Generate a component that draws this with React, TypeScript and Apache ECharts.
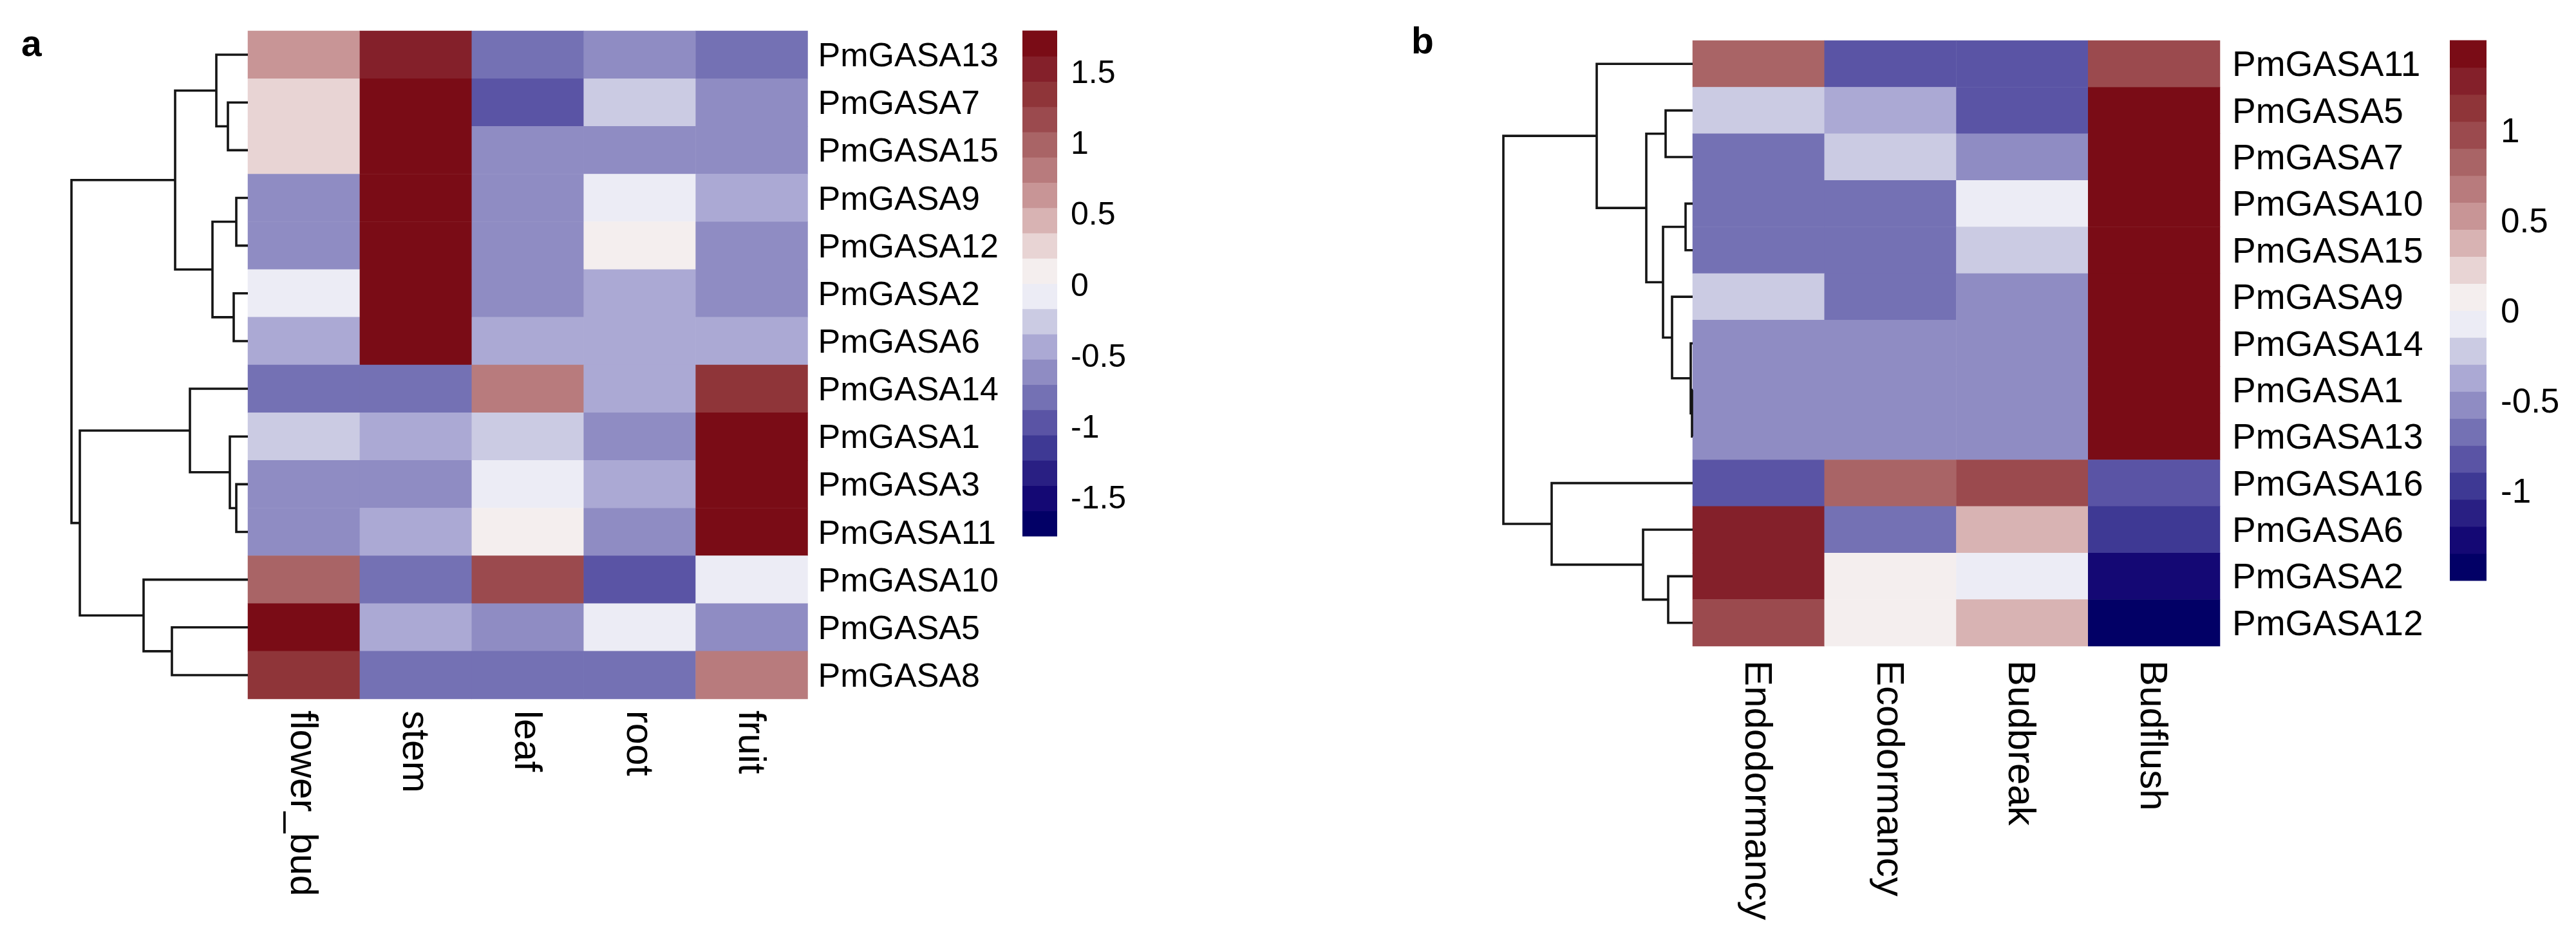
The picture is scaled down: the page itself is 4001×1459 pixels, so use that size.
import React, { useEffect, useRef } from "react";
import * as echarts from "echarts";

// ---------- Panel a: tissues ----------
const tissuesA = ["flower_bud", "stem", "leaf", "root", "fruit"];
const genesA = [
  "PmGASA13", "PmGASA7", "PmGASA15", "PmGASA9", "PmGASA12", "PmGASA2", "PmGASA6",
  "PmGASA14", "PmGASA1", "PmGASA3", "PmGASA11", "PmGASA10", "PmGASA5", "PmGASA8",
];
const exprA = [
  [0.63, 1.52, -0.79, -0.61, -0.76],
  [0.24, 1.73, -1.0, -0.31, -0.66],
  [0.3, 1.76, -0.69, -0.68, -0.69],
  [-0.6, 1.77, -0.62, -0.05, -0.48],
  [-0.64, 1.76, -0.63, 0.09, -0.58],
  [-0.09, 1.74, -0.58, -0.47, -0.6],
  [-0.44, 1.78, -0.45, -0.44, -0.45],
  [-0.82, -0.8, 0.8, -0.45, 1.3],
  [-0.25, -0.45, -0.3, -0.66, 1.66],
  [-0.55, -0.56, -0.1, -0.47, 1.68],
  [-0.58, -0.4, 0.05, -0.68, 1.65],
  [0.92, -0.86, 1.1, -1.03, -0.13],
  [1.73, -0.43, -0.6, -0.1, -0.6],
  [1.38, -0.76, -0.77, -0.75, 0.86],
];
// merges: [left, right, height]; negative = leaf -(row+1), positive = earlier merge (1-based)
const mergesA = [
  [-10, -11, 0.18],
  [-4, -5, 0.18],
  [-6, -7, 0.22],
  [-9, 1, 0.28],
  [-2, -3, 0.31],
  [-1, 5, 0.49],
  [2, 3, 0.55],
  [-8, 4, 0.9],
  [6, 7, 1.13],
  [-13, -14, 1.18],
  [-12, 10, 1.62],
  [8, 11, 2.61],
  [9, 12, 2.74],
];
const scaleA = [-1.77, 1.789];
const ticksA = [-1.5, -1, -0.5, 0, 0.5, 1, 1.5];

// ---------- Panel b: dormancy stages ----------
const stagesB = ["Endodormancy", "Ecodormancy", "Budbreak", "Budflush"];
const genesB = [
  "PmGASA11", "PmGASA5", "PmGASA7", "PmGASA10", "PmGASA15", "PmGASA9", "PmGASA14",
  "PmGASA1", "PmGASA13", "PmGASA16", "PmGASA6", "PmGASA2", "PmGASA12",
];
const exprB = [
  [0.82, -0.86, -0.84, 0.93],
  [-0.24, -0.38, -0.86, 1.48],
  [-0.66, -0.24, -0.55, 1.45],
  [-0.71, -0.71, -0.06, 1.48],
  [-0.66, -0.66, -0.17, 1.49],
  [-0.26, -0.69, -0.54, 1.49],
  [-0.51, -0.49, -0.5, 1.5],
  [-0.5, -0.5, -0.5, 1.5],
  [-0.5, -0.5, -0.5, 1.5],
  [-0.85, 0.8, 0.95, -0.88],
  [1.28, -0.68, 0.38, -0.98],
  [1.27, 0.05, -0.06, -1.26],
  [0.96, 0.06, 0.4, -1.42],
];
const mergesB = [
  [-8, -9, 0.01],
  [-7, 1, 0.03],
  [-4, -5, 0.11],
  [-6, 2, 0.32],
  [-12, -13, 0.38],
  [-2, -3, 0.42],
  [3, 4, 0.46],
  [6, 7, 0.72],
  [-11, 5, 0.77],
  [-1, 8, 1.49],
  [-10, 9, 2.19],
  [10, 11, 2.94],
];
const scaleB = [-1.5, 1.5];
const ticksB = [-1, -0.5, 0, 0.5, 1];

// 20 colour steps, from lowest to highest
const palette = [
  "#020066", "#140874", "#291F83", "#3E3994", "#5A54A5", "#7471B4", "#8F8CC3",
  "#ABA9D4", "#CBCBE3", "#ECECF5", "#F4EEEE", "#E8D4D4", "#D8B3B3", "#C89596",
  "#B87B7D", "#A96466", "#9B4A4E", "#8F3539", "#84202A", "#7A0C16",
];

const FONT = "Liberation Sans, Arial, Helvetica, sans-serif";

function makePieces(range: number[]) {
  const [lo, hi] = range;
  const w = (hi - lo) / palette.length;
  return palette.map((color, i) => {
    const p: any = { gte: lo + i * w, color };
    if (i === palette.length - 1) p.lte = hi + 1e-9;
    else p.lt = lo + (i + 1) * w;
    return p;
  });
}

function makeBins(range: number[]) {
  const [lo, hi] = range;
  const w = (hi - lo) / palette.length;
  return palette.map((_, i) => [lo + i * w, lo + (i + 1) * w, i]);
}

function dendroSegments(merges: number[][]) {
  const pos: number[] = [];
  const hgt: number[] = [];
  const segs: number[][] = [];
  const get = (ref: number) => (ref < 0 ? [0, -ref - 1] : [hgt[ref - 1], pos[ref - 1]]);
  merges.forEach(([l, r, h]) => {
    const [hl, pl] = get(l);
    const [hr, pr] = get(r);
    segs.push([hl, pl, h, pr, hr]);
    pos.push((pl + pr) / 2);
    hgt.push(h);
  });
  return segs;
}

const dendroRender = (_params: any, api: any) => {
  const a = api.coord([api.value(0), api.value(1)]);
  const b = api.coord([api.value(2), api.value(1)]);
  const c = api.coord([api.value(2), api.value(3)]);
  const d = api.coord([api.value(4), api.value(3)]);
  return {
    type: "polyline",
    shape: { points: [a, b, c, d] },
    style: { stroke: "#151515", lineWidth: 3.6, fill: null, lineJoin: "miter" },
  };
};

const barRender = (_params: any, api: any) => {
  const p1 = api.coord([0, api.value(1)]);
  const p2 = api.coord([1, api.value(0)]);
  return {
    type: "rect",
    shape: { x: p1[0], y: p1[1] - 0.4, width: p2[0] - p1[0], height: p2[1] - p1[1] + 0.8 },
    style: { fill: palette[api.value(2)] },
  };
};

function buildOption() {
  const heatA = exprA.flatMap((row, r) => row.map((v, c) => [c, r, v]));
  const heatB = exprB.flatMap((row, r) => row.map((v, c) => [c, r, v]));
  const rootA = mergesA[mergesA.length - 1][2];
  const rootB = mergesB[mergesB.length - 1][2];

  const hidden = { show: false };
  const gridBase = { outerBoundsMode: "none", containLabel: false };

  const catLabel = (size: number, margin: number, rotate = 0) => ({
    interval: 0,
    fontSize: size,
    fontFamily: FONT,
    color: "#000",
    margin,
    rotate,
  });

  return {
    animation: false,
    backgroundColor: "#fff",
    grid: [
      { ...gridBase, left: 385, top: 48, width: 869.5, height: 1038 },
      { ...gridBase, left: 111, top: 48, width: 274, height: 1038 },
      { ...gridBase, left: 1588, top: 48, width: 54, height: 785 },
      { ...gridBase, left: 2629, top: 63, width: 819, height: 941 },
      { ...gridBase, left: 2335, top: 63, width: 294, height: 941 },
      { ...gridBase, left: 3805, top: 63, width: 57, height: 839 },
    ],
    xAxis: [
      {
        gridIndex: 0, type: "category", data: tissuesA, position: "bottom",
        axisLine: hidden, axisTick: hidden, splitLine: hidden,
        axisLabel: catLabel(59, 18, -90),
      },
      { gridIndex: 1, type: "value", min: 0, max: rootA, inverse: true, show: false },
      { gridIndex: 2, type: "value", min: 0, max: 1, show: false },
      {
        gridIndex: 3, type: "category", data: stagesB, position: "bottom",
        axisLine: hidden, axisTick: hidden, splitLine: hidden,
        axisLabel: catLabel(60, 22, -90),
      },
      { gridIndex: 4, type: "value", min: 0, max: rootB, inverse: true, show: false },
      { gridIndex: 5, type: "value", min: 0, max: 1, show: false },
    ],
    yAxis: [
      {
        gridIndex: 0, type: "category", data: genesA, inverse: true, position: "right",
        axisLine: hidden, axisTick: hidden, splitLine: hidden,
        axisLabel: catLabel(52, 16),
      },
      { gridIndex: 1, type: "value", min: -0.5, max: genesA.length - 0.5, inverse: true, show: false },
      {
        gridIndex: 2, type: "value", min: scaleA[0], max: scaleA[1], position: "right",
        axisLine: hidden, axisTick: hidden, splitLine: hidden,
        axisLabel: { customValues: ticksA, fontSize: 50, fontFamily: FONT, color: "#000", margin: 21 },
      },
      {
        gridIndex: 3, type: "category", data: genesB, inverse: true, position: "right",
        axisLine: hidden, axisTick: hidden, splitLine: hidden,
        axisLabel: catLabel(55, 19),
      },
      { gridIndex: 4, type: "value", min: -0.5, max: genesB.length - 0.5, inverse: true, show: false },
      {
        gridIndex: 5, type: "value", min: scaleB[0], max: scaleB[1], position: "right",
        axisLine: hidden, axisTick: hidden, splitLine: hidden,
        axisLabel: { customValues: ticksB, fontSize: 53, fontFamily: FONT, color: "#000", margin: 22 },
      },
    ],
    visualMap: [
      { type: "piecewise", show: false, seriesIndex: 0, dimension: 2, pieces: makePieces(scaleA) },
      { type: "piecewise", show: false, seriesIndex: 3, dimension: 2, pieces: makePieces(scaleB) },
    ],
    series: [
      {
        type: "heatmap", xAxisIndex: 0, yAxisIndex: 0, data: heatA,
        itemStyle: { borderWidth: 0 }, emphasis: { disabled: true }, progressive: 0,
      },
      {
        type: "custom", xAxisIndex: 1, yAxisIndex: 1, clip: false,
        data: dendroSegments(mergesA), encode: { x: [0, 2, 4], y: [1, 3] },
        renderItem: dendroRender,
      },
      {
        type: "custom", xAxisIndex: 2, yAxisIndex: 2, clip: false,
        data: makeBins(scaleA), encode: { y: [0, 1] }, renderItem: barRender,
      },
      {
        type: "heatmap", xAxisIndex: 3, yAxisIndex: 3, data: heatB,
        itemStyle: { borderWidth: 0 }, emphasis: { disabled: true }, progressive: 0,
      },
      {
        type: "custom", xAxisIndex: 4, yAxisIndex: 4, clip: false,
        data: dendroSegments(mergesB), encode: { x: [0, 2, 4], y: [1, 3] },
        renderItem: dendroRender,
      },
      {
        type: "custom", xAxisIndex: 5, yAxisIndex: 5, clip: false,
        data: makeBins(scaleB), encode: { y: [0, 1] }, renderItem: barRender,
      },
    ],
    graphic: [
      {
        type: "text", left: 33, top: 38,
        style: { text: "a", font: `bold 57px ${FONT}`, fill: "#000" },
      },
      {
        type: "text", left: 2192, top: 34,
        style: { text: "b", font: `bold 57px ${FONT}`, fill: "#000" },
      },
    ],
  };
}

export default function App() {
  const ref = useRef<HTMLDivElement>(null);
  useEffect(() => {
    if (!ref.current) return;
    const chart = echarts.init(ref.current, null, { renderer: "svg" });
    chart.setOption(buildOption() as any);
    return () => chart.dispose();
  }, []);
  return (
    <div
      ref={ref}
      style={{ position: "absolute", left: 0, top: 0, width: 4001, height: 1459, background: "#fff" }}
    />
  );
}
